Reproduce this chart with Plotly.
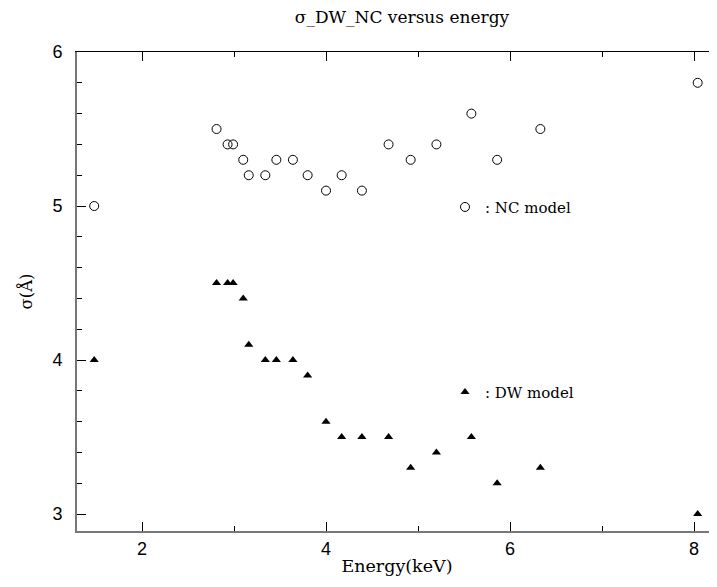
import plotly.graph_objects as go

energy = [1.48, 2.81, 2.93, 2.99, 3.10, 3.16, 3.34, 3.46, 3.64, 3.80,
          4.00, 4.17, 4.39, 4.68, 4.92, 5.20, 5.58, 5.86, 6.33, 8.04]
sigma_nc = [5.0, 5.5, 5.4, 5.4, 5.3, 5.2, 5.2, 5.3, 5.3, 5.2,
            5.1, 5.2, 5.1, 5.4, 5.3, 5.4, 5.6, 5.3, 5.5, 5.8]
sigma_dw = [4.0, 4.5, 4.5, 4.5, 4.4, 4.1, 4.0, 4.0, 4.0, 3.9,
            3.6, 3.5, 3.5, 3.5, 3.3, 3.4, 3.5, 3.2, 3.3, 3.0]
x_ticks = [2, 4, 6, 8]
y_ticks = [3, 4, 5, 6]

SERIF = "DejaVu Serif"
SANS = "Liberation Sans"

fig = go.Figure()
fig.add_trace(go.Scatter(
    x=energy, y=sigma_nc, mode="markers", name=": NC model",
    marker=dict(symbol="circle-open", size=9, color="black", line=dict(width=1, color="black")),
    legend="legend"))
fig.add_trace(go.Scatter(
    x=energy, y=sigma_dw, mode="markers", name=": DW model",
    marker=dict(symbol="triangle-up", size=8, color="black"),
    legend="legend2"))

# invisible trace to activate the top/right tick axes
fig.add_trace(go.Scatter(x=energy, y=sigma_nc, xaxis="x2", yaxis="y2",
                         mode="markers", marker=dict(opacity=0), showlegend=False,
                         hoverinfo="skip"))

xr = [1.293, 8.25]
yr = [2.89, 6.0]

fig.update_layout(
    width=717, height=587,
    margin=dict(l=69, r=8, t=44, b=64, autoexpand=False),
    paper_bgcolor="white", plot_bgcolor="white",
    title=dict(text="σ_DW_NC versus energy", x=394 / 717, xref="container", xanchor="center",
               y=1 - 9 / 587, yref="container", yanchor="middle", automargin=False,
               font=dict(family=SERIF, size=17, color="black")),
    xaxis=dict(range=xr, tickvals=x_ticks, ticks="inside", ticklen=9, tickwidth=1,
               tickcolor="black", showline=True, linecolor="#777777", linewidth=2,
               showgrid=False, zeroline=False, automargin=False,
               tickfont=dict(family=SANS, size=18, color="black"),
               minor=dict(dtick=1, tick0=0, ticks="inside", ticklen=5, tickcolor="black", showgrid=False),
               title=dict(text="Energy(keV)", font=dict(family=SERIF, size=17.5, color="black"), standoff=2)),
    yaxis=dict(range=yr, tickvals=y_ticks, ticks="inside", ticklen=9, tickwidth=1,
               tickcolor="black", showline=True, linecolor="#777777", linewidth=2,
               showgrid=False, zeroline=False, automargin=False, ticklabelstandoff=9,
               tickfont=dict(family=SANS, size=18, color="black"),
               minor=dict(dtick=0.2, tick0=0, ticks="inside", ticklen=5, tickcolor="black", showgrid=False),
               title=dict(text="σ(Å)", font=dict(family=SERIF, size=16.5, color="black"), standoff=16)),
    xaxis2=dict(range=xr, overlaying="x", side="top", tickvals=x_ticks, ticks="inside",
                ticklen=9, tickcolor="black", showticklabels=False, showline=True,
                linecolor="black", linewidth=1, showgrid=False, zeroline=False, automargin=False,
                minor=dict(dtick=1, tick0=0, ticks="inside", ticklen=5, tickcolor="black", showgrid=False)),
    yaxis2=dict(range=yr, overlaying="y", side="right", tickvals=y_ticks, ticks="inside",
                ticklen=7, tickcolor="black", showticklabels=False, showline=False,
                showgrid=False, zeroline=False, automargin=False),
    legend=dict(x=0.575, y=0.676, xanchor="left", yanchor="middle", bgcolor="rgba(0,0,0,0)",
                font=dict(family=SERIF, size=15, color="black"), borderwidth=0),
    legend2=dict(x=0.575, y=0.2895, xanchor="left", yanchor="middle", bgcolor="rgba(0,0,0,0)",
                 font=dict(family=SERIF, size=15, color="black"), borderwidth=0),
)

fig.write_html("out.html")
